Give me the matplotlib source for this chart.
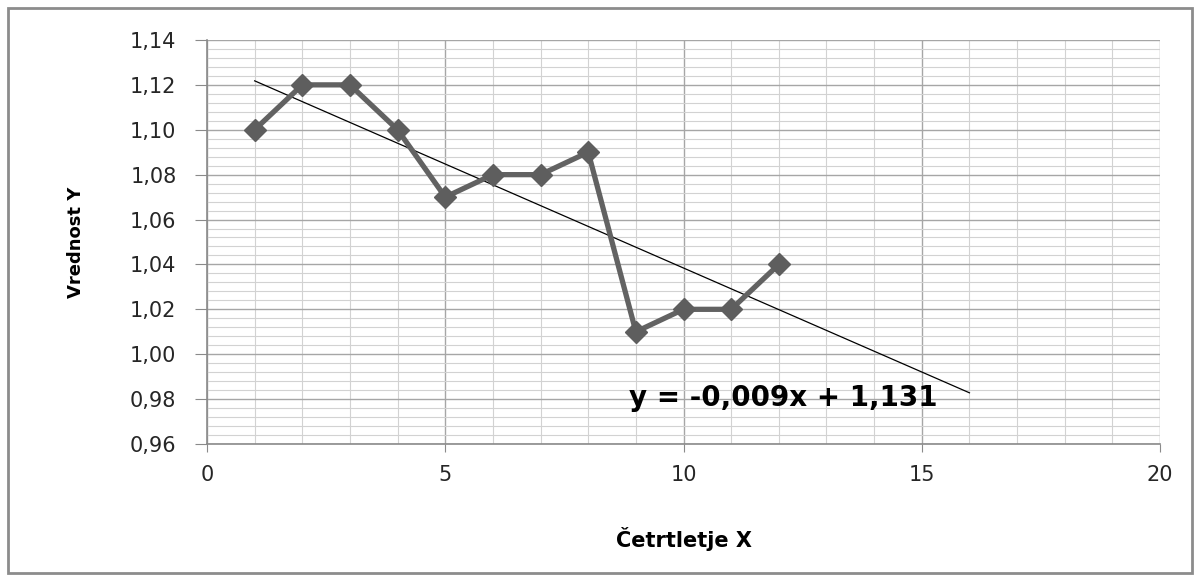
import matplotlib
matplotlib.use('Agg')
import matplotlib.pyplot as plt
from matplotlib.patches import Rectangle
from matplotlib.ticker import MultipleLocator, FuncFormatter
import numpy as np

quarters = [1, 2, 3, 4, 5, 6, 7, 8, 9, 10, 11, 12]
values = [1.10, 1.12, 1.12, 1.10, 1.07, 1.08, 1.08, 1.09, 1.01, 1.02, 1.02, 1.04]
trend_until = 16

plt.rcParams['font.family'] = ['DejaVu Sans']

fig = plt.figure(figsize=(12, 5.81), dpi=100)
ax = fig.add_axes([0.1725, 0.2358, 0.7942, 0.6954])

# linear trend from the data, extended forward
k, n = np.polyfit(quarters, values, 1)
tx = np.array([quarters[0], trend_until])
ax.plot(tx, k * tx + n, color='black', lw=0.9, zorder=3)

ax.plot(quarters, values, color='#626262', lw=3.8, marker='D', markersize=11,
        markerfacecolor='#5e5e5e', markeredgecolor='#5e5e5e', zorder=4)

ax.set_xlim(0, 20)
ax.set_ylim(0.96, 1.14)
ax.xaxis.set_major_locator(MultipleLocator(5))
ax.xaxis.set_minor_locator(MultipleLocator(1))
ax.yaxis.set_major_locator(MultipleLocator(0.02))
ax.yaxis.set_minor_locator(MultipleLocator(0.004))
ax.yaxis.set_major_formatter(FuncFormatter(lambda v, p: ('%.2f' % v).replace('.', ',')))

ax.grid(which='major', color='#a6a6a6', lw=1.0)
ax.grid(which='minor', color='#d2d2d2', lw=0.8)
ax.set_axisbelow(True)
for s in ['top', 'right']:
    ax.spines[s].set_visible(False)
for s in ['left', 'bottom']:
    ax.spines[s].set_color('#8a8a8a')
    ax.spines[s].set_linewidth(1.2)
ax.tick_params(which='major', color='#8a8a8a', labelsize=15, labelcolor='#262626')
ax.tick_params(axis='x', length=6, pad=9)
ax.tick_params(axis='y', length=9, pad=13)
ax.tick_params(which='minor', length=0)

ax.set_xlabel('Četrtletje X', fontsize=15, fontweight='bold', labelpad=30)
ax.set_ylabel('Vrednost Y', fontsize=13, fontweight='bold', labelpad=32)

eq = 'y = %s' % (('%.3fx + %.3f' % (k, n)).replace('.', ','))
ax.text(8.85, 0.9805, eq, fontsize=20, fontweight='bold', va='center', ha='left', zorder=5)

fig.patches.append(Rectangle((0.007, 0.014), 0.986, 0.972, transform=fig.transFigure,
                             fill=False, edgecolor='#8c8c8c', lw=2))

fig.savefig('out.png', dpi=100)
